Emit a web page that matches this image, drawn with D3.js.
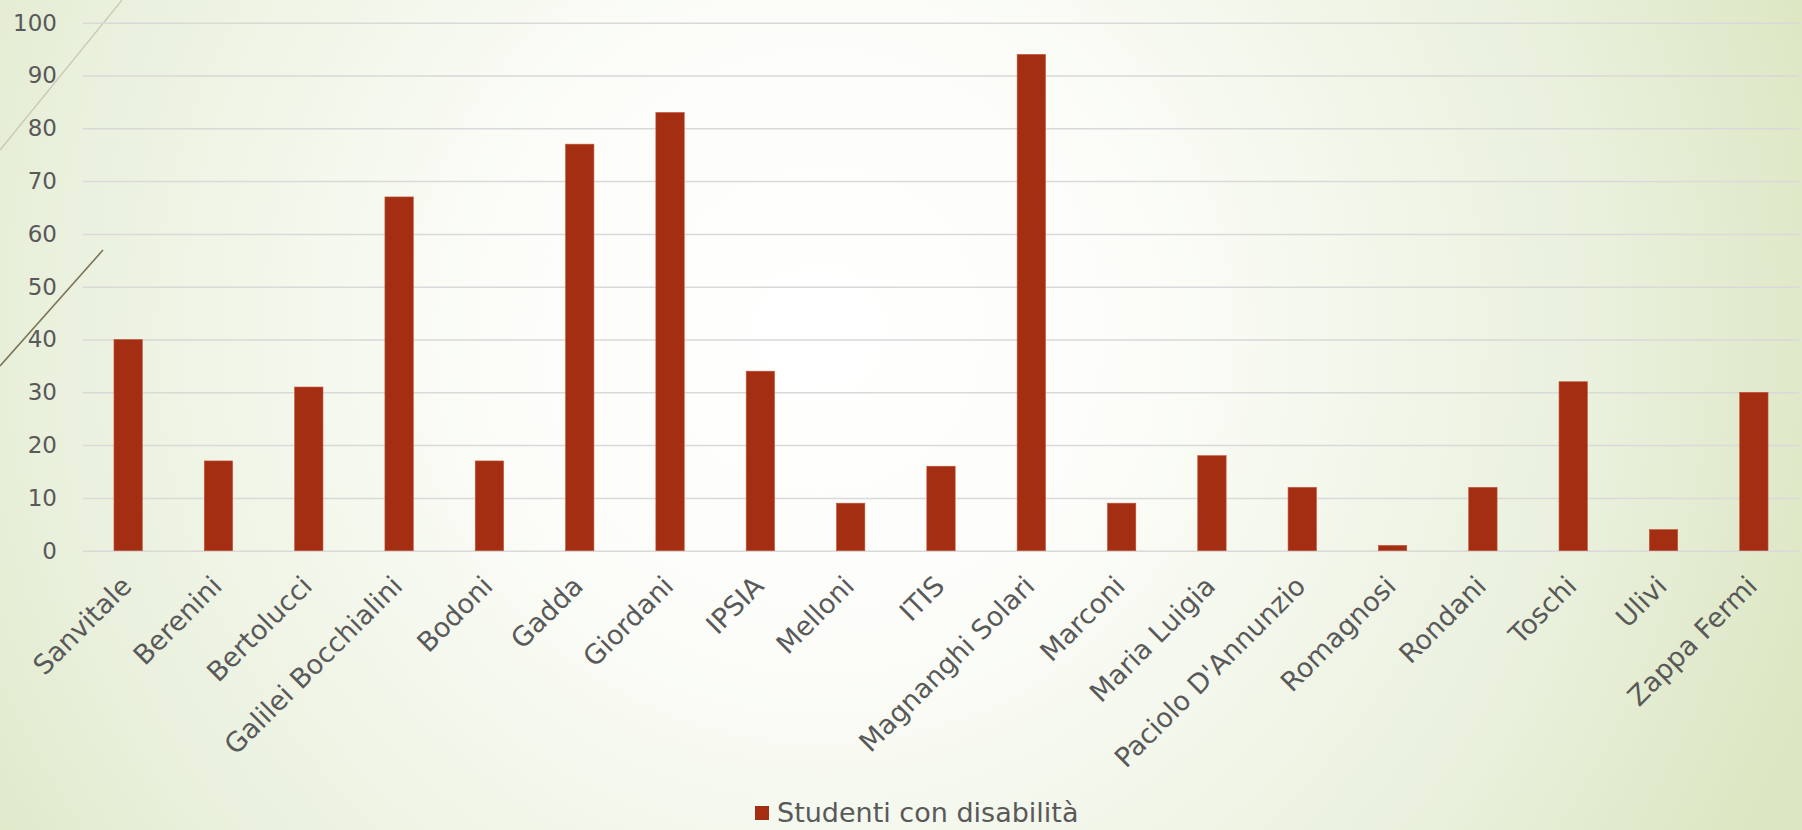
<!DOCTYPE html>
<html><head><meta charset="utf-8">
<script src="https://cdn.jsdelivr.net/npm/d3@7"></script>
<style>html,body{margin:0;padding:0;overflow:hidden;}svg{display:block;}</style>
</head><body>
<svg id="chart" width="1802" height="830"></svg>
<script>
const categories = ["Sanvitale","Berenini","Bertolucci","Galilei Bocchialini","Bodoni","Gadda","Giordani","IPSIA","Melloni","ITIS","Magnanghi Solari","Marconi","Maria Luigia","Paciolo D'Annunzio","Romagnosi","Rondani","Toschi","Ulivi","Zappa Fermi"];
const values = [40,17,31,67,17,77,83,34,9,16,94,9,18,12,1,12,32,4,30];
const seriesName = "Studenti con disabilità";
const yTicks = [0,10,20,30,40,50,60,70,80,90,100];

const W = 1802, H = 830;
const svg = d3.select("#chart");
const defs = svg.append("defs");
const rg = defs.append("radialGradient").attr("id","bg").attr("gradientUnits","userSpaceOnUse")
  .attr("cx",820).attr("cy",330).attr("r",1050);
rg.append("stop").attr("offset","0").attr("stop-color","#ffffff");
rg.append("stop").attr("offset","0.3").attr("stop-color","#fcfdf9");
rg.append("stop").attr("offset","0.75").attr("stop-color","#e9f0dc");
rg.append("stop").attr("offset","1").attr("stop-color","#dce6c2");
svg.append("rect").attr("width",W).attr("height",H).attr("fill","url(#bg)");

// decorative lines
svg.append("line").attr("x1",0).attr("y1",150).attr("x2",122).attr("y2",0)
  .attr("stroke","#c9c6b0").attr("stroke-width",1.2);
svg.append("line").attr("x1",0).attr("y1",366).attr("x2",103).attr("y2",250)
  .attr("stroke","#7d7456").attr("stroke-width",1.6);

const m = {left:83, right:1799, top:22.7, bottom:550.7};
const x = d3.scaleBand().domain(categories).range([m.left,m.right]).paddingInner(0.686).paddingOuter(0.343);
const y = d3.scaleLinear().domain([0,100]).range([m.bottom,m.top]);

const font = "'DejaVu Sans', sans-serif";
const txt = "#595959";

// grid
const grid = svg.append("g").call(d3.axisLeft(y).tickValues(yTicks).tickSize(-(m.right-m.left)).tickFormat(""))
  .attr("transform",`translate(${m.left},0)`);
grid.select(".domain").remove();
grid.selectAll("line").attr("stroke","#d9d9d9").attr("stroke-width",1.5);

// y labels
const ya = svg.append("g").attr("transform",`translate(${m.left},0)`)
  .call(d3.axisLeft(y).tickValues(yTicks).tickSize(0).tickPadding(26));
ya.select(".domain").remove();
ya.selectAll("text").attr("font-family",font).attr("font-size",23).attr("fill",txt);

// bars
svg.append("g").selectAll("rect").data(values).join("rect")
  .attr("x",(d,i)=>x(categories[i])).attr("width",x.bandwidth())
  .attr("y",d=>y(d)).attr("height",d=>y(0)-y(d))
  .attr("fill","#a42e12").attr("stroke","#c4553a").attr("stroke-width",0.6);

// x labels
const xa = svg.append("g").attr("transform",`translate(0,${m.bottom})`)
  .call(d3.axisBottom(x).tickSize(0).tickPadding(0));
xa.select(".domain").remove();
xa.selectAll("text").attr("font-family",font).attr("font-size",27).attr("fill",txt)
  .attr("text-anchor","end").attr("dy","0")
  .attr("transform","translate(5,37) rotate(-45)");

// legend
const lg = svg.append("g").attr("transform","translate(755,813)");
lg.append("rect").attr("x",0).attr("y",-7).attr("width",14).attr("height",14).attr("fill","#a42e12");
lg.append("text").attr("x",22).attr("y",0).attr("dy","0.35em").attr("font-family",font).attr("font-size",27)
  .attr("fill",txt).text(seriesName);
</script>
</body></html>
